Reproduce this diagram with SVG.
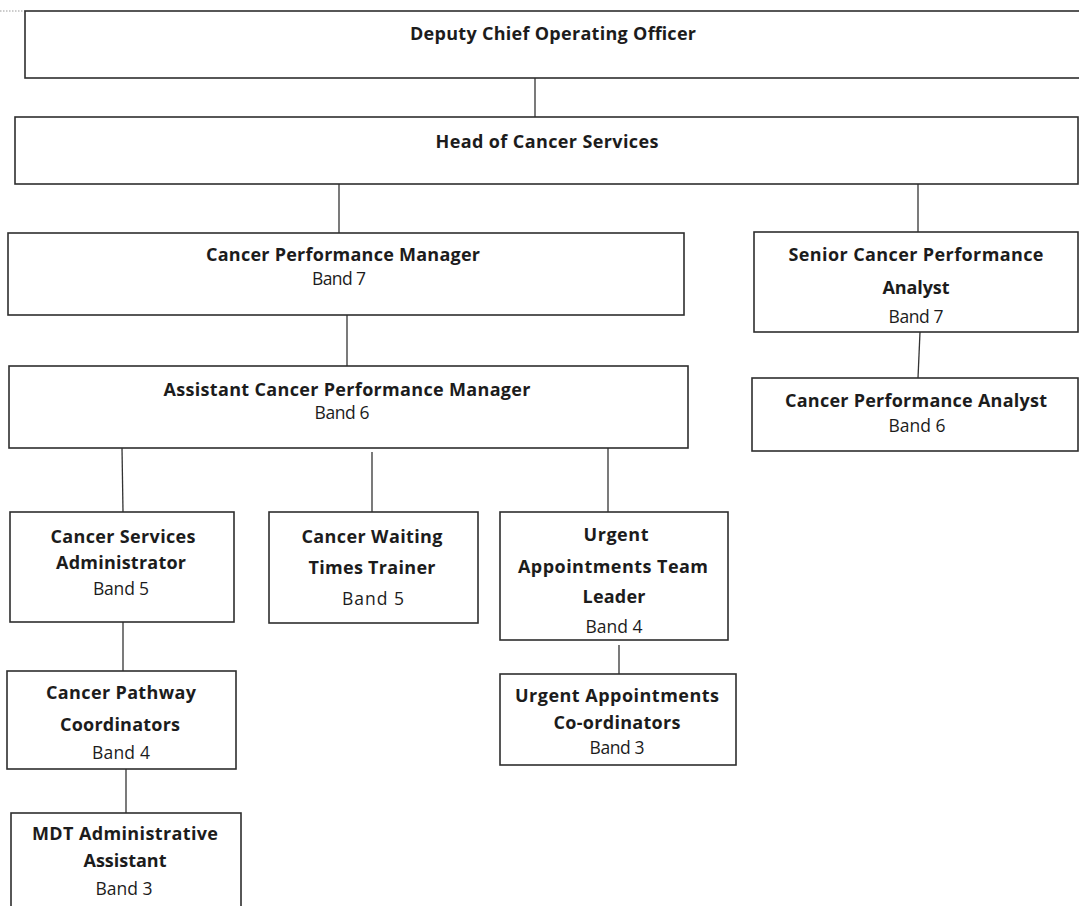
<svg xmlns="http://www.w3.org/2000/svg" width="1079" height="906" viewBox="0 0 1079 906">
<style>
.box{fill:#fff;stroke:#2e2e2e;stroke-width:1.6}
.t{font-family:"Open Sans","DejaVu Sans",sans-serif;font-size:18px;font-weight:bold;fill:#1c1c1c;text-anchor:middle}
.b{font-family:"Open Sans","DejaVu Sans",sans-serif;font-size:17.5px;fill:#1c1c1c;text-anchor:middle}
.c{stroke:#333;stroke-width:1.3;fill:none}
</style>
<rect width="1079" height="906" fill="#fff"/>
<line x1="0" y1="11" x2="25" y2="11" stroke="#999" stroke-width="1" stroke-dasharray="1.5,1.5"/>
<g id="connectors">
<line class="c" x1="535" y1="78" x2="535" y2="117"/>
<line class="c" x1="339" y1="184" x2="339" y2="233"/>
<line class="c" x1="918" y1="184" x2="918" y2="232"/>
<line class="c" x1="347" y1="315" x2="347" y2="366"/>
<line class="c" x1="920" y1="332" x2="918" y2="378"/>
<line class="c" x1="122" y1="448" x2="123" y2="512"/>
<line class="c" x1="372" y1="452" x2="372" y2="512"/>
<line class="c" x1="608" y1="448" x2="608" y2="512"/>
<line class="c" x1="619" y1="645" x2="619" y2="674"/>
<line class="c" x1="123" y1="622" x2="123" y2="671"/>
<line class="c" x1="126" y1="769" x2="126" y2="813"/>
</g>
<g id="deputy">
<rect class="box" x="25" y="11" width="1064" height="67"/>
<text class="t" x="553" y="40" textLength="286" lengthAdjust="spacing">Deputy Chief Operating Officer</text>
</g>
<g id="head">
<rect class="box" x="15" y="117" width="1063" height="67"/>
<text class="t" x="547" y="148" textLength="223" lengthAdjust="spacing">Head of Cancer Services</text>
</g>
<g id="cpm">
<rect class="box" x="8" y="233" width="676" height="82"/>
<text class="t" x="343" y="261" textLength="274" lengthAdjust="spacing">Cancer Performance Manager</text>
<text class="b" x="339" y="285" textLength="54" lengthAdjust="spacing">Band 7</text>
</g>
<g id="scpa">
<rect class="box" x="754" y="232" width="324" height="100"/>
<text class="t" x="916" y="261" textLength="255" lengthAdjust="spacing">Senior Cancer Performance</text>
<text class="t" x="916" y="294" textLength="67" lengthAdjust="spacing">Analyst</text>
<text class="b" x="916" y="323" textLength="55" lengthAdjust="spacing">Band 7</text>
</g>
<g id="cpa">
<rect class="box" x="752" y="378" width="326" height="73"/>
<text class="t" x="916" y="407" textLength="262" lengthAdjust="spacing">Cancer Performance Analyst</text>
<text class="b" x="917" y="432" textLength="57" lengthAdjust="spacing">Band 6</text>
</g>
<g id="acpm">
<rect class="box" x="9" y="366" width="679" height="82"/>
<text class="t" x="347" y="396" textLength="367" lengthAdjust="spacing">Assistant Cancer Performance Manager</text>
<text class="b" x="342" y="419" textLength="55" lengthAdjust="spacing">Band 6</text>
</g>
<g id="csa">
<rect class="box" x="10" y="512" width="224" height="110"/>
<text class="t" x="123" y="543" textLength="145" lengthAdjust="spacing">Cancer Services</text>
<text class="t" x="121" y="569" textLength="130" lengthAdjust="spacing">Administrator</text>
<text class="b" x="121" y="595" textLength="56" lengthAdjust="spacing">Band 5</text>
</g>
<g id="cwtt">
<rect class="box" x="269" y="512" width="209" height="111"/>
<text class="t" x="372" y="543" textLength="141" lengthAdjust="spacing">Cancer Waiting</text>
<text class="t" x="372" y="574" textLength="127" lengthAdjust="spacing">Times Trainer</text>
<text class="b" x="373" y="605" textLength="62" lengthAdjust="spacing">Band 5</text>
</g>
<g id="uatl">
<rect class="box" x="500" y="512" width="228" height="128"/>
<text class="t" x="616" y="541" textLength="65" lengthAdjust="spacing">Urgent</text>
<text class="t" x="613" y="573" textLength="190" lengthAdjust="spacing">Appointments Team</text>
<text class="t" x="614" y="603" textLength="63" lengthAdjust="spacing">Leader</text>
<text class="b" x="614" y="633" textLength="57" lengthAdjust="spacing">Band 4</text>
</g>
<g id="uac">
<rect class="box" x="500" y="674" width="236" height="91"/>
<text class="t" x="617" y="702" textLength="204" lengthAdjust="spacing">Urgent Appointments</text>
<text class="t" x="617" y="729" textLength="127" lengthAdjust="spacing">Co-ordinators</text>
<text class="b" x="617" y="754" textLength="55" lengthAdjust="spacing">Band 3</text>
</g>
<g id="cpc">
<rect class="box" x="7" y="671" width="229" height="98"/>
<text class="t" x="121" y="699" textLength="150" lengthAdjust="spacing">Cancer Pathway</text>
<text class="t" x="120" y="731" textLength="120" lengthAdjust="spacing">Coordinators</text>
<text class="b" x="121" y="759" textLength="58" lengthAdjust="spacing">Band 4</text>
</g>
<g id="mdt">
<rect class="box" x="11" y="813" width="230" height="110"/>
<text class="t" x="125" y="840" textLength="186" lengthAdjust="spacing">MDT Administrative</text>
<text class="t" x="125" y="867" textLength="83" lengthAdjust="spacing">Assistant</text>
<text class="b" x="124" y="895" textLength="57" lengthAdjust="spacing">Band 3</text>
</g>
</svg>
